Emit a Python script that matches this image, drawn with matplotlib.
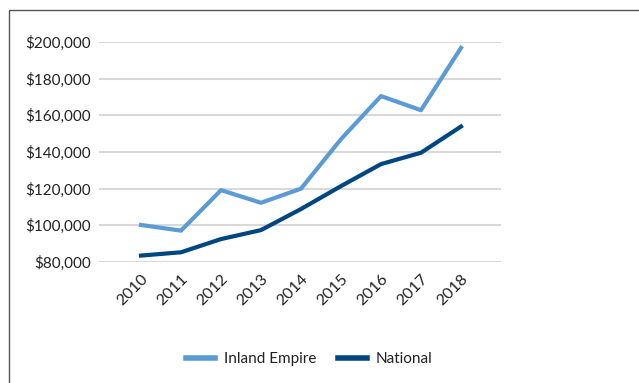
import matplotlib
matplotlib.use("Agg")
from matplotlib import pyplot as plt
from matplotlib.patches import Rectangle
from matplotlib.ticker import FuncFormatter
from matplotlib.transforms import ScaledTranslation

years = ["2010", "2011", "2012", "2013", "2014", "2015", "2016", "2017", "2018"]
inland_empire = [100200, 97100, 119200, 112300, 120000, 147000, 170500, 162800, 196800]
national = [83500, 85300, 92500, 97400, 108900, 121400, 133400, 139600, 153900]

plt.rcParams["font.family"] = ["Lato", "DejaVu Sans"]

fig = plt.figure(figsize=(6.39, 3.83), dpi=100)
ax = fig.add_axes([99 / 639, 1 - 262 / 383, 402 / 639, 220 / 383])

x = list(range(len(years)))
ax.plot(x, inland_empire, color="#5B9BD5", lw=3, label="Inland Empire", clip_on=False)
ax.plot(x, national, color="#004680", lw=3, label="National", clip_on=False)

ax.set_xlim(-1.05, 9)
ax.set_ylim(80000, 200000)
ax.set_yticks(range(80000, 200001, 20000))
ax.yaxis.set_major_formatter(FuncFormatter(lambda v, p: f"${v:,.0f}"))
ax.set_xticks(x)
ax.set_xticklabels(years, rotation=45, ha="right", rotation_mode="anchor")
shift = ScaledTranslation(8 / 100, 0, fig.dpi_scale_trans)
for lbl in ax.get_xticklabels():
    lbl.set_transform(lbl.get_transform() + shift)

ax.grid(axis="y", color="#D9D9D9", lw=1.5)
ax.set_axisbelow(True)
for s in ax.spines.values():
    s.set_visible(False)
ax.tick_params(axis="both", length=0, colors="#222222")
ax.tick_params(axis="y", labelsize=11, pad=6)
ax.tick_params(axis="x", labelsize=11.5, pad=7)

ax.legend(loc="center", bbox_to_anchor=(309 / 639, 1 - 359 / 383), bbox_transform=fig.transFigure,
          ncol=2, frameon=False, fontsize=11, handlelength=1.9, handletextpad=0.6,
          columnspacing=1.4, labelcolor="#222222")
for h in ax.get_legend().get_lines():
    h.set_linewidth(4)

# outer frame, cut off at the right and bottom like the source image
fig.patches.append(Rectangle((9 / 639, -0.1), 1.1, 1 - 10 / 383 + 0.1, transform=fig.transFigure,
                             fill=False, edgecolor="#555555", lw=1))

fig.savefig("out.png", dpi=100)
